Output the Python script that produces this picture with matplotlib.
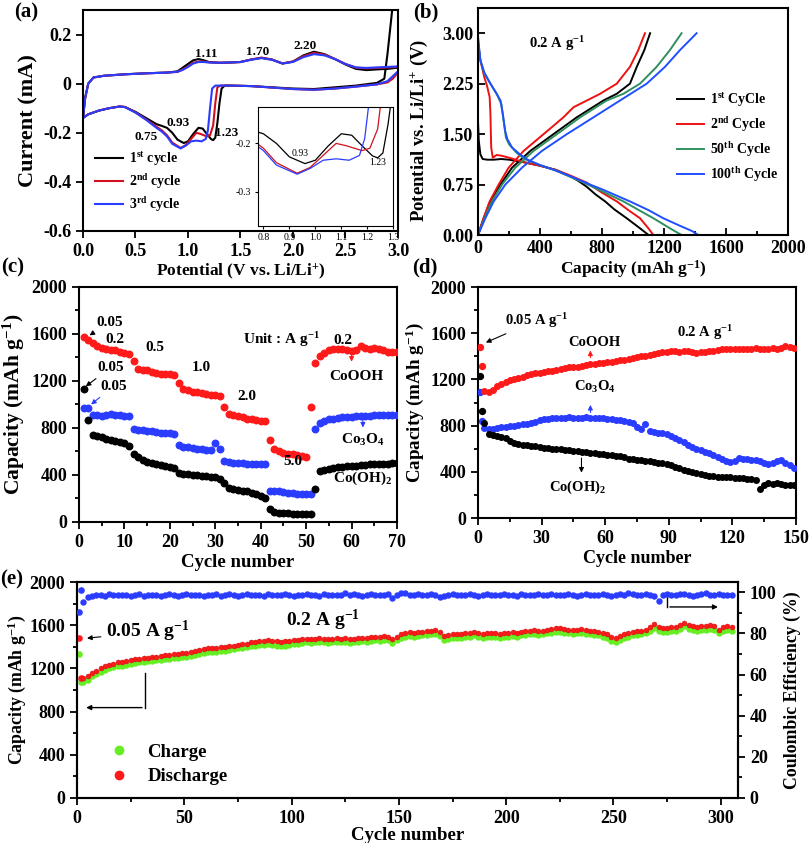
import numpy as np
import matplotlib
matplotlib.use("Agg")
import matplotlib.pyplot as plt
from matplotlib.lines import Line2D
from matplotlib.ticker import MultipleLocator

plt.rcParams["font.family"] = ["Liberation Serif", "DejaVu Serif"]
plt.rcParams["font.weight"] = "bold"
plt.rcParams["axes.labelweight"] = "bold"
plt.rcParams["mathtext.fontset"] = "custom"
plt.rcParams["mathtext.rm"] = "Liberation Serif:bold"
plt.rcParams["mathtext.it"] = "Liberation Serif:bold"
plt.rcParams["mathtext.bf"] = "Liberation Serif:bold"
plt.rcParams["axes.linewidth"] = 1.5

RED = "#ff1a1a"
BLUE = "#2a3cff"
GREEN = "#66ee22"
TEAL = "#2f8f5f"

# ---------------- (a) CV curves ----------------
a_v1 = [2.95, 2.90, 2.87, 2.80, 2.60, 2.40, 2.20, 2.00, 1.80, 1.60,
        1.40, 1.35, 1.32, 1.30, 1.28, 1.26, 1.24, 1.22, 1.18, 1.14,
        1.10, 1.05, 1.00, 0.96, 0.90, 0.85, 0.80, 0.75, 0.70, 0.60,
        0.50, 0.40, 0.35, 0.25, 0.15, 0.05, 0.00,
        0.02, 0.05, 0.10, 0.20, 0.40, 0.60, 0.80, 0.90, 0.95, 1.00,
        1.05, 1.10, 1.15, 1.20, 1.30, 1.40, 1.50, 1.60, 1.70, 1.80,
        1.90, 2.00, 2.10, 2.20, 2.30, 2.40, 2.50, 2.60, 2.70, 2.80,
        2.90, 3.00]
a_i1 = [0.32, 0.12, 0.02, 0.003, -0.008, -0.015, -0.022, -0.02, -0.015, -0.01,
        -0.008, -0.008, -0.02, -0.08, -0.16, -0.22, -0.23, -0.226, -0.205, -0.183,
        -0.18, -0.205, -0.235, -0.242, -0.228, -0.2, -0.18, -0.172, -0.165, -0.14,
        -0.115, -0.095, -0.093, -0.1, -0.11, -0.125, -0.14,
        -0.06, 0.0, 0.025, 0.032, 0.038, 0.042, 0.045, 0.05, 0.065, 0.08,
        0.095, 0.1, 0.095, 0.088, 0.085, 0.086, 0.088, 0.098, 0.105, 0.098,
        0.082, 0.09, 0.115, 0.13, 0.12, 0.1, 0.078, 0.06, 0.055, 0.058,
        0.06, 0.065]
a_up_v = [0.02, 0.05, 0.10, 0.20, 0.40, 0.60, 0.80, 0.90, 0.95, 1.00,
          1.05, 1.10, 1.15, 1.20, 1.30, 1.40, 1.50, 1.60, 1.70, 1.80,
          1.90, 2.00, 2.10, 2.20, 2.30, 2.40, 2.50, 2.60, 2.70, 2.80,
          2.90, 3.00]
a_v2 = [3.00, 2.95, 2.90, 2.80, 2.60, 2.40, 2.20, 2.00, 1.80, 1.60,
        1.40, 1.31, 1.28, 1.26, 1.24, 1.21, 1.18, 1.12, 1.08, 1.03,
        0.98, 0.93, 0.85, 0.80, 0.75, 0.70, 0.60, 0.50, 0.40, 0.35,
        0.25, 0.15, 0.05, 0.00] + a_up_v
a_i2 = [0.045, 0.02, 0.005, -0.003, -0.012, -0.02, -0.025, -0.022, -0.016, -0.01,
        -0.008, -0.008, -0.015, -0.08, -0.17, -0.21, -0.215, -0.205, -0.2, -0.225,
        -0.25, -0.262, -0.24, -0.21, -0.19, -0.175, -0.145, -0.117, -0.095, -0.093,
        -0.1, -0.11, -0.125, -0.14,
        -0.06, 0.0, 0.025, 0.032, 0.038, 0.042, 0.045, 0.048, 0.058, 0.07,
        0.085, 0.09, 0.09, 0.087, 0.085, 0.086, 0.088, 0.098, 0.106, 0.098,
        0.082, 0.09, 0.112, 0.125, 0.118, 0.1, 0.08, 0.065, 0.062, 0.064,
        0.066, 0.068]
a_v3 = [3.00, 2.95, 2.90, 2.80, 2.60, 2.40, 2.20, 2.00, 1.80, 1.60,
        1.40, 1.26, 1.23, 1.21, 1.19, 1.17, 1.13, 1.08, 1.03, 0.98,
        0.93, 0.85, 0.80, 0.75, 0.70, 0.60, 0.50, 0.40, 0.35, 0.25,
        0.15, 0.05, 0.00] + a_up_v
a_i3 = [0.05, 0.03, 0.01, -0.003, -0.012, -0.02, -0.025, -0.022, -0.016, -0.01,
        -0.008, -0.008, -0.02, -0.1, -0.19, -0.225, -0.235, -0.232, -0.235, -0.252,
        -0.264, -0.245, -0.215, -0.195, -0.18, -0.147, -0.118, -0.096, -0.093, -0.1,
        -0.11, -0.125, -0.14,
        -0.06, 0.0, 0.025, 0.032, 0.038, 0.042, 0.045, 0.048, 0.056, 0.068,
        0.082, 0.088, 0.088, 0.086, 0.085, 0.086, 0.088, 0.097, 0.104, 0.097,
        0.082, 0.088, 0.108, 0.12, 0.115, 0.1, 0.08, 0.066, 0.064, 0.066,
        0.068, 0.07]
a_labels = ["1$^{\\mathrm{st}}$ cycle", "2$^{\\mathrm{nd}}$ cycle", "3$^{\\mathrm{rd}}$ cycle"]

# ---------------- (b) charge / discharge ----------------
b_dis1_cap = [0, 5, 15, 30, 60, 100, 150, 200, 300, 400, 500, 600, 650, 700, 760, 820, 880, 959, 1045, 1100]
b_dis1_v = [1.68, 1.40, 1.20, 1.13, 1.12, 1.12, 1.13, 1.12, 1.08, 1.03, 0.97, 0.87, 0.80, 0.72, 0.60, 0.50, 0.38, 0.25, 0.10, 0.0]
b_chg1_cap = [0, 36, 79, 144, 219, 337, 487, 637, 809, 895, 980, 1024, 1073, 1110]
b_chg1_v = [0.0, 0.25, 0.5, 0.75, 1.0, 1.25, 1.5, 1.75, 2.0, 2.1, 2.25, 2.5, 2.75, 3.0]
b_dis2_cap = [0, 15, 40, 60, 75, 80, 85, 95, 120, 150, 200, 300, 400, 500, 600, 700, 800, 895, 970, 1045, 1099, 1131]
b_dis2_v = [2.85, 2.60, 2.35, 2.20, 2.05, 1.80, 1.30, 1.15, 1.19, 1.18, 1.15, 1.08, 1.03, 0.97, 0.88, 0.78, 0.63, 0.50, 0.37, 0.25, 0.10, 0.0]
b_chg2_cap = [0, 36, 75, 133, 197, 294, 423, 551, 616, 702, 788, 895, 980, 1034, 1077]
b_chg2_v = [0.0, 0.25, 0.5, 0.75, 1.0, 1.25, 1.5, 1.75, 1.9, 2.0, 2.1, 2.25, 2.5, 2.75, 3.0]
b_dis50_cap = [0, 15, 40, 80, 120, 150, 165, 180, 200, 250, 300, 400, 500, 600, 700, 800, 938, 1030, 1131, 1238, 1313]
b_dis50_v = [2.90, 2.60, 2.40, 2.25, 2.10, 1.95, 1.70, 1.45, 1.35, 1.22, 1.13, 1.04, 0.96, 0.86, 0.76, 0.65, 0.50, 0.38, 0.25, 0.10, 0.0]
b_chg50_cap = [0, 41, 90, 155, 240, 358, 509, 659, 830, 938, 1045, 1152, 1238, 1313]
b_chg50_v = [0.0, 0.25, 0.5, 0.75, 1.0, 1.25, 1.5, 1.75, 2.0, 2.1, 2.25, 2.5, 2.75, 3.0]
b_dis100_cap = [0, 15, 40, 80, 120, 145, 160, 175, 190, 220, 270, 320, 400, 500, 600, 723, 800, 900, 980, 1100, 1195, 1300, 1380, 1421]
b_dis100_v = [2.95, 2.60, 2.42, 2.25, 2.10, 2.00, 1.80, 1.55, 1.42, 1.30, 1.20, 1.12, 1.04, 0.96, 0.87, 0.75, 0.68, 0.58, 0.50, 0.37, 0.25, 0.14, 0.06, 0.0]
b_chg100_cap = [0, 47, 101, 176, 283, 412, 573, 745, 916, 1088, 1206, 1303, 1410]
b_chg100_v = [0.0, 0.25, 0.5, 0.75, 1.0, 1.25, 1.5, 1.75, 2.0, 2.25, 2.5, 2.75, 3.0]
b_labels = ["1$^{\\mathrm{st}}$ CyCle", "2$^{\\mathrm{nd}}$ Cycle", "50$^{\\mathrm{th}}$ Cycle", "100$^{\\mathrm{th}}$ Cycle"]

# ---------------- (c) rate capability, cycles 1..70 ----------------
c_cycle = np.arange(1, 71)
c_cooh = [1570, 1550, 1520, 1500, 1480, 1470, 1460, 1460, 1450, 1440,
          1430, 1370, 1300, 1290, 1290, 1280, 1270, 1260, 1260, 1260,
          1250, 1180, 1130, 1120, 1110, 1110, 1100, 1090, 1080, 1080,
          1070, 980, 920, 910, 900, 890, 880, 880, 870, 860,
          860, 700, 620, 600, 590, 580, 575, 570, 565, 555,
          975, 1350, 1410, 1440, 1460, 1470, 1470, 1470, 1465, 1455,
          1460, 1500, 1480, 1470, 1480, 1470, 1460, 1450, 1450, 1450]
c_co3o4 = [970, 970, 910, 910, 905, 910, 915, 910, 910, 905,
           905, 790, 785, 780, 775, 770, 765, 760, 755, 755,
           750, 655, 640, 635, 630, 625, 620, 615, 610, 670,
           620, 520, 510, 505, 500, 500, 495, 495, 495, 490,
           490, 260, 265, 260, 255, 250, 245, 240, 240, 235,
           240, 790, 840, 860, 875, 880, 885, 890, 890, 895,
           900, 900, 905, 905, 910, 910, 910, 910, 910, 910]
c_cooh2 = [1130, 870, 740, 735, 720, 710, 700, 690, 680, 670,
           650, 580, 550, 530, 510, 500, 490, 485, 480, 470,
           460, 420, 410, 405, 400, 400, 395, 390, 385, 380,
           370, 330, 290, 280, 270, 265, 260, 250, 240, 220,
           200, 110, 85, 80, 78, 75, 72, 70, 68, 65,
           70, 280, 430, 440, 450, 460, 465, 470, 475, 480,
           480, 485, 485, 490, 490, 490, 495, 495, 500, 500]

# ---------------- (d) cycling at 0.2 A/g ----------------
d_first_cyc = [1, 2]
d_first_cooh = [1480, 1320]
d_first_co3o4 = [1090, 840]
d_first_cooh2 = [1230, 930]
d_cycle = np.arange(3, 150, 2)
d_cooh = [1100, 1090, 1110, 1140, 1160, 1180, 1195, 1205, 1215, 1225,
          1235, 1245, 1255, 1260, 1265, 1270, 1275, 1285, 1290, 1300,
          1305, 1310, 1310, 1320, 1325, 1330, 1335, 1340, 1345, 1350,
          1355, 1360, 1365, 1370, 1375, 1385, 1390, 1400, 1405, 1410,
          1420, 1425, 1435, 1440, 1445, 1445, 1440, 1445, 1450, 1440,
          1430, 1435, 1440, 1445, 1450, 1455, 1460, 1465, 1460, 1465,
          1460, 1465, 1460, 1465, 1470, 1465, 1460, 1465, 1470, 1465,
          1475, 1490, 1480, 1470]
d_co3o4 = [780, 770, 775, 780, 785, 790, 795, 800, 805, 810,
           815, 825, 835, 845, 855, 860, 865, 870, 870, 870,
           872, 870, 868, 870, 872, 870, 866, 865, 862, 860,
           855, 850, 845, 840, 835, 825, 790, 775, 815, 750,
           745, 740, 735, 728, 710, 690, 672, 658, 635, 615,
           600, 586, 575, 560, 545, 528, 510, 490, 482, 490,
           520, 515, 510, 505, 500, 490, 475, 470, 480, 495,
           500, 480, 455, 430]
d_cooh2 = [820, 730, 720, 710, 700, 690, 670, 650, 640, 635,
           630, 625, 620, 615, 610, 605, 600, 598, 595, 590,
           585, 580, 578, 575, 570, 565, 560, 558, 555, 550,
           545, 540, 535, 525, 515, 510, 505, 500, 495, 490,
           485, 480, 475, 470, 460, 445, 430, 420, 410, 400,
           390, 380, 370, 365, 360, 355, 355, 355, 355, 350,
           345, 345, 340, 335, 330, 250, 290, 300, 295, 300,
           295, 290, 285, 283]

# ---------------- (e) long cycling ----------------
e_first_cyc = [1, 2]
e_first_dis = [1480, 1110]
e_first_chg = [1330, 1070]
e_first_ce = [90.5, 101.0]
e_cycle = np.arange(3, 306, 2)
e_dis = [1110, 1130, 1160, 1180, 1200, 1220, 1235, 1245, 1255, 1260,
         1270, 1280, 1285, 1290, 1295, 1300, 1305, 1310, 1315, 1320,
         1325, 1330, 1335, 1340, 1345, 1350, 1360, 1370, 1380, 1385,
         1385, 1390, 1395, 1400, 1405, 1410, 1420, 1425, 1430, 1440,
         1445, 1450, 1455, 1460, 1455, 1450, 1445, 1450, 1455, 1460,
         1465, 1470, 1475, 1470, 1475, 1480, 1475, 1470, 1475, 1480,
         1475, 1480, 1470, 1475, 1480, 1485, 1480, 1490, 1495, 1490,
         1500, 1495, 1470, 1495, 1520, 1530, 1535, 1530, 1535, 1540,
         1545, 1550, 1555, 1540, 1500, 1510, 1515, 1520, 1515, 1525,
         1530, 1540, 1525, 1520, 1525, 1530, 1525, 1520, 1525, 1530,
         1535, 1530, 1540, 1545, 1550, 1555, 1545, 1550, 1560, 1565,
         1570, 1575, 1565, 1560, 1555, 1560, 1565, 1555, 1550, 1545,
         1540, 1530, 1520, 1490, 1480, 1500, 1520, 1530, 1540, 1545,
         1550, 1560, 1580, 1610, 1580, 1570, 1575, 1580, 1585, 1600,
         1625, 1600, 1590, 1585, 1590, 1595, 1600, 1590, 1560, 1580,
         1590, 1585]
e_chg = [1070, 1095, 1125, 1145, 1165, 1185, 1200, 1210, 1220, 1225,
         1235, 1245, 1250, 1255, 1260, 1265, 1270, 1275, 1280, 1285,
         1290, 1295, 1300, 1305, 1310, 1315, 1325, 1335, 1345, 1350,
         1350, 1355, 1360, 1365, 1370, 1375, 1385, 1390, 1395, 1405,
         1410, 1415, 1420, 1425, 1420, 1410, 1405, 1410, 1420, 1425,
         1430, 1435, 1440, 1435, 1440, 1445, 1440, 1435, 1440, 1445,
         1440, 1445, 1435, 1440, 1445, 1450, 1445, 1455, 1460, 1455,
         1465, 1460, 1435, 1460, 1485, 1495, 1500, 1495, 1500, 1505,
         1510, 1515, 1520, 1500, 1460, 1475, 1480, 1485, 1480, 1490,
         1495, 1505, 1490, 1485, 1490, 1495, 1490, 1485, 1490, 1495,
         1500, 1495, 1505, 1510, 1515, 1520, 1510, 1515, 1525, 1530,
         1535, 1540, 1530, 1525, 1520, 1525, 1530, 1520, 1515, 1510,
         1505, 1495, 1485, 1455, 1445, 1465, 1485, 1495, 1505, 1510,
         1515, 1525, 1545, 1575, 1545, 1535, 1540, 1545, 1550, 1565,
         1590, 1565, 1555, 1550, 1555, 1560, 1565, 1555, 1525, 1545,
         1555, 1550]
e_ce = [95.5, 97.5, 98.3, 98.6, 98.8, 98.4, 99.0, 98.7, 98.5, 98.9,
        98.6, 98.2, 98.8, 99.1, 98.4, 98.7, 98.9, 98.5, 98.3, 98.8,
        99.0, 98.6, 98.4, 98.8, 99.1, 98.5, 98.7, 98.9, 98.2, 98.6,
        98.8, 99.1, 98.4, 98.7, 99.0, 98.6, 98.3, 98.8, 99.1, 98.5,
        98.7, 98.9, 98.4, 99.1, 98.6, 98.8, 98.5, 99.0, 98.7, 98.4,
        98.9, 98.6, 99.1, 98.5, 98.8, 98.3, 99.0, 98.7, 98.9, 98.6,
        98.8, 99.6, 98.5, 99.0, 98.7, 98.4, 98.9, 99.1, 98.6, 98.8,
        98.5, 99.0, 97.0, 98.7, 99.5, 99.8, 98.9, 98.6, 99.1, 98.8,
        98.5, 99.0, 98.7, 97.8, 98.4, 98.9, 99.1, 98.6, 98.8, 98.5,
        99.0, 98.7, 98.4, 98.9, 99.1, 98.6, 98.8, 98.5, 99.0, 98.7,
        98.9, 98.4, 99.1, 98.6, 98.8, 98.5, 99.0, 98.7, 98.9, 99.1,
        98.6, 98.8, 98.5, 99.0, 98.7, 98.4, 98.9, 99.1, 98.6, 98.8,
        98.5, 99.0, 98.7, 98.4, 98.9, 99.1, 98.6, 99.7, 99.4, 98.8,
        98.5, 99.0, 98.7, 98.0, 96.0, 98.9, 99.1, 98.6, 98.8, 99.4,
        99.0, 98.7, 98.4, 98.9, 99.1, 99.5, 98.8, 98.5, 99.0, 98.7,
        98.9, 98.6]


def style(ax, direction):
    ax.tick_params(which="both", direction=direction, width=1.3, labelsize=13)
    ax.tick_params(which="major", length=5)
    ax.tick_params(which="minor", length=3)


fig = plt.figure(figsize=(8.12, 8.43), dpi=100)

# ---- (a)
ax = fig.add_axes([0.1022, 0.7260, 0.3879, 0.2622])
for v, i, c, lab in [(a_v1, a_i1, "black", a_labels[0]),
                     (a_v2, a_i2, "#d01020", a_labels[1]),
                     (a_v3, a_i3, BLUE, a_labels[2])]:
    ax.plot(v, i, color=c, lw=1.5, label=lab)
ax.set_xlim(0, 3.0)
ax.set_ylim(-0.6, 0.3)
ax.set_xticks(np.arange(0, 3.01, 0.5))
ax.set_yticks([-0.6, -0.4, -0.2, 0, 0.2])
ax.set_yticklabels(["-0.6", "-0.4", "-0.2", "0", "0.2"])
style(ax, "out")
ax.set_xlabel("Potential (V vs. Li/Li$^{+}$)", fontsize=12.5, labelpad=1)
ax.set_ylabel("Current (mA)", fontsize=16, labelpad=3)
ax.legend(loc="lower left", bbox_to_anchor=(0.0, 0.02), frameon=False, fontsize=10,
          handlelength=2.0, handletextpad=0.4, labelspacing=0.3)
for txt, x, y in [("1.11", 1.17, 0.121), ("1.70", 1.66, 0.127), ("2.20", 2.12, 0.152),
                  ("0.93", 0.91, -0.162), ("0.75", 0.60, -0.218), ("1.23", 1.37, -0.2)]:
    ax.text(x, y, txt, fontsize=9.5, ha="center", va="center")

ins = fig.add_axes([0.318, 0.7323, 0.1663, 0.1404])
ins.plot(a_v1, a_i1, color="black", lw=0.9)
ins.plot(a_v2, a_i2, color="#d01020", lw=0.9)
ins.plot(a_v3, a_i3, color=BLUE, lw=0.9)
ins.set_xlim(0.78, 1.3)
ins.set_ylim(-0.371, -0.125)
ins.set_xticks([0.8, 0.9, 1.0, 1.1, 1.2, 1.3])
ins.set_yticks([-0.2, -0.3])
ins.set_yticklabels(["-0.2", "-0.3"])
ins.tick_params(labelsize=7, length=2, width=0.8, direction="out")
for lbl in ins.get_xticklabels() + ins.get_yticklabels():
    lbl.set_fontweight("normal")
for s in ins.spines.values():
    s.set_linewidth(0.8)
ins.text(0.943, -0.222, "0.93", fontsize=7, fontweight="normal", ha="center", va="center")
ins.text(1.24, -0.24, "1.23", fontsize=7, fontweight="normal", ha="center", va="center")

# ---- (b)
ax = fig.add_axes([0.5887, 0.7212, 0.3818, 0.2693])
for dc, dv, cc, cv, col, lab in [
        (b_dis1_cap, b_dis1_v, b_chg1_cap, b_chg1_v, "black", b_labels[0]),
        (b_dis2_cap, b_dis2_v, b_chg2_cap, b_chg2_v, "#ee1111", b_labels[1]),
        (b_dis50_cap, b_dis50_v, b_chg50_cap, b_chg50_v, TEAL, b_labels[2]),
        (b_dis100_cap, b_dis100_v, b_chg100_cap, b_chg100_v, "#1f4fff", b_labels[3])]:
    ax.plot(dc, dv, color=col, lw=1.4, label=lab)
    ax.plot(cc, cv, color=col, lw=1.4)
ax.set_xlim(0, 2000)
ax.set_ylim(0, 3.375)
ax.set_xticks(np.arange(0, 2001, 400))
ax.set_yticks([0, 0.75, 1.5, 2.25, 3.0])
ax.set_yticklabels(["0.00", "0.75", "1.50", "2.25", "3.00"])
ax.xaxis.set_minor_locator(MultipleLocator(200))
style(ax, "in")
ax.set_xlabel("Capacity (mAh g$^{-1}$)", fontsize=12.5, labelpad=1)
ax.set_ylabel("Potential vs. Li/Li$^{+}$ (V)", fontsize=13.5)
ax.yaxis.set_label_coords(-0.155, 0.46)
ax.text(330, 2.85, "0.2 A g$^{-1}$", fontsize=10.5, ha="left", va="center")
ax.legend(loc="center left", bbox_to_anchor=(0.6, 0.43), frameon=False, fontsize=10,
          handlelength=2.0, handletextpad=0.4, labelspacing=0.45)

# ---- (c)
ax = fig.add_axes([0.0973, 0.3808, 0.3916, 0.2788])
ax.scatter(c_cycle, c_cooh, s=22, color=RED, zorder=3)
ax.scatter(c_cycle, c_co3o4, s=22, color=BLUE, zorder=3)
ax.scatter(c_cycle, c_cooh2, s=22, color="black", zorder=3)
ax.set_xlim(0, 70)
ax.set_ylim(0, 2000)
ax.set_xticks(np.arange(0, 71, 10))
ax.set_yticks(np.arange(0, 2001, 400))
ax.xaxis.set_minor_locator(MultipleLocator(5))
ax.yaxis.set_minor_locator(MultipleLocator(200))
style(ax, "out")
ax.set_xlabel("Cycle number", fontsize=13.5, labelpad=2)
ax.set_ylabel("Capacity (mAh g$^{-1}$)", fontsize=15.5, labelpad=3)
arr = dict(arrowstyle="-|>", color="black", lw=0.8, mutation_scale=7)
ax.annotate("0.05", xy=(1.8, 1575), xytext=(3.8, 1700), fontsize=11, va="center",
            arrowprops=arr)
ax.annotate("0.05", xy=(1.0, 1140), xytext=(4.0, 1313), fontsize=11, va="center",
            arrowprops=arr)
ax.annotate("0.05", xy=(2.2, 985), xytext=(4.6, 1155), fontsize=11, va="center",
            arrowprops=dict(arr, color=BLUE))
for txt, x, y in [("0.2", 8.0, 1555), ("0.5", 16.8, 1484), ("1.0", 27.0, 1313),
                  ("2.0", 37.0, 1070), ("5.0", 47.0, 516), ("0.2", 58.0, 1546)]:
    ax.text(x, y, txt, fontsize=11, ha="center", va="center")
ax.text(36.0, 1555, "Unit : A g$^{-1}$", fontsize=11, ha="left", va="center")
ax.text(61.0, 1234, "CoOOH", fontsize=11, ha="center", va="center")
ax.text(62.5, 695, "Co$_3$O$_4$", fontsize=11, ha="center", va="center")
ax.text(62.5, 375, "Co(OH)$_2$", fontsize=11, ha="center", va="center")
ax.annotate("", xy=(60, 1340), xytext=(60, 1450), arrowprops=dict(arr, color=RED))
ax.annotate("", xy=(62.5, 780), xytext=(62.5, 900), arrowprops=dict(arr, color=BLUE))
ax.annotate("", xy=(63, 430), xytext=(63, 490), arrowprops=arr)

# ---- (d)
ax = fig.add_axes([0.5887, 0.3855, 0.3916, 0.2740])
ax.scatter(d_first_cyc, d_first_cooh, s=18, color=RED, zorder=3)
ax.scatter(d_first_cyc, d_first_co3o4, s=18, color=BLUE, zorder=3)
ax.scatter(d_first_cyc, d_first_cooh2, s=18, color="black", zorder=3)
ax.scatter(d_cycle, d_cooh, s=16, color=RED, zorder=3)
ax.scatter(d_cycle, d_co3o4, s=16, color=BLUE, zorder=3)
ax.scatter(d_cycle, d_cooh2, s=16, color="black", zorder=3)
ax.set_xlim(0, 150)
ax.set_ylim(0, 2000)
ax.set_xticks(np.arange(0, 151, 30))
ax.set_yticks(np.arange(0, 2001, 400))
ax.xaxis.set_minor_locator(MultipleLocator(15))
ax.yaxis.set_minor_locator(MultipleLocator(200))
style(ax, "out")
ax.set_xlabel("Cycle number", fontsize=13, labelpad=2)
ax.set_ylabel("Capacity (mAh g$^{-1}$)", fontsize=13.7, labelpad=3)
ax.annotate("0.05 A g$^{-1}$", xy=(2.5, 1510), xytext=(12.6, 1711), fontsize=10.5,
            va="center", arrowprops=arr)
ax.text(94, 1610, "0.2 A g$^{-1}$", fontsize=10.5, ha="left", va="center")
ax.text(55, 1524, "CoOOH", fontsize=10.5, ha="center", va="center")
ax.text(55, 1134, "Co$_3$O$_4$", fontsize=10.5, ha="center", va="center")
ax.text(47, 268, "Co(OH)$_2$", fontsize=10.5, ha="center", va="center")
ax.annotate("", xy=(53, 1475), xytext=(53, 1365), arrowprops=dict(arr, color=RED))
ax.annotate("", xy=(53, 1004), xytext=(53, 889), arrowprops=dict(arr, color=BLUE))
ax.annotate("", xy=(48.8, 369), xytext=(48.8, 543), arrowprops=arr)

# ---- (e)
ax = fig.add_axes([0.0948, 0.0534, 0.8140, 0.2562])
ax2 = ax.twinx()
ax2.scatter(e_first_cyc, e_first_ce, s=14, color=BLUE, zorder=3)
ax2.scatter(e_cycle, e_ce, s=13, color=BLUE, zorder=3)
ax.scatter(e_first_cyc, e_first_chg, s=14, color=GREEN, zorder=3)
ax.scatter(e_first_cyc, e_first_dis, s=14, color=RED, zorder=4)
ax.scatter(e_cycle, e_chg, s=13, color=GREEN, zorder=3)
ax.scatter(e_cycle, e_dis, s=13, color=RED, edgecolor="#c01010", linewidth=0.3, zorder=4)
ax.set_xlim(0, 308)
ax.set_ylim(0, 2000)
ax2.set_ylim(0, 105)
ax.set_xticks(np.arange(0, 301, 50))
ax.set_yticks(np.arange(0, 2001, 400))
ax2.set_yticks(np.arange(0, 101, 20))
ax.xaxis.set_minor_locator(MultipleLocator(25))
ax.yaxis.set_minor_locator(MultipleLocator(200))
ax2.yaxis.set_minor_locator(MultipleLocator(10))
style(ax, "out")
style(ax2, "out")
ax.set_xlabel("Cycle number", fontsize=13.5, labelpad=0)
ax.set_ylabel("Capacity (mAh g$^{-1}$)", fontsize=12.8, labelpad=1)
ax2.set_ylabel("Coulombic Efficiency (%)", fontsize=12.8, labelpad=5)
ax.annotate("0.05 A g$^{-1}$", xy=(3.4, 1477), xytext=(13.7, 1538), fontsize=14,
            va="center", arrowprops=dict(arrowstyle="-|>", color="black", lw=0.8, mutation_scale=7))
ax.text(97.5, 1646, "0.2 A g$^{-1}$", fontsize=14, ha="left", va="center")
ax.plot([31.6, 31.6], [1154, 837], color="black", lw=1)
ax.annotate("", xy=(3, 837), xytext=(31.6, 837),
            arrowprops=dict(arrowstyle="-|>", color="black", lw=1, mutation_scale=7))
ax.plot([275, 275], [1877, 1769], color="black", lw=1)
ax.annotate("", xy=(300, 1769), xytext=(275, 1769),
            arrowprops=dict(arrowstyle="-|>", color="black", lw=1, mutation_scale=7))
hnd = [Line2D([], [], marker="o", ls="", color=GREEN, markersize=6),
       Line2D([], [], marker="o", ls="", color=RED, markersize=6)]
ax.legend(hnd, ["Charge", "Discharge"], loc="upper left", bbox_to_anchor=(0.01, 0.33),
          frameon=False, fontsize=13.5, handletextpad=0.5, labelspacing=0.4)

for t, x, y in [("(a)", 0.018, 0.985), ("(b)", 0.509, 0.985), ("(c)", 0.002, 0.683),
                ("(d)", 0.508, 0.683), ("(e)", 0.0, 0.312)]:
    fig.text(x, y, t, fontsize=15, fontweight="bold", ha="left", va="center")

fig.savefig("out.png", dpi=100)
